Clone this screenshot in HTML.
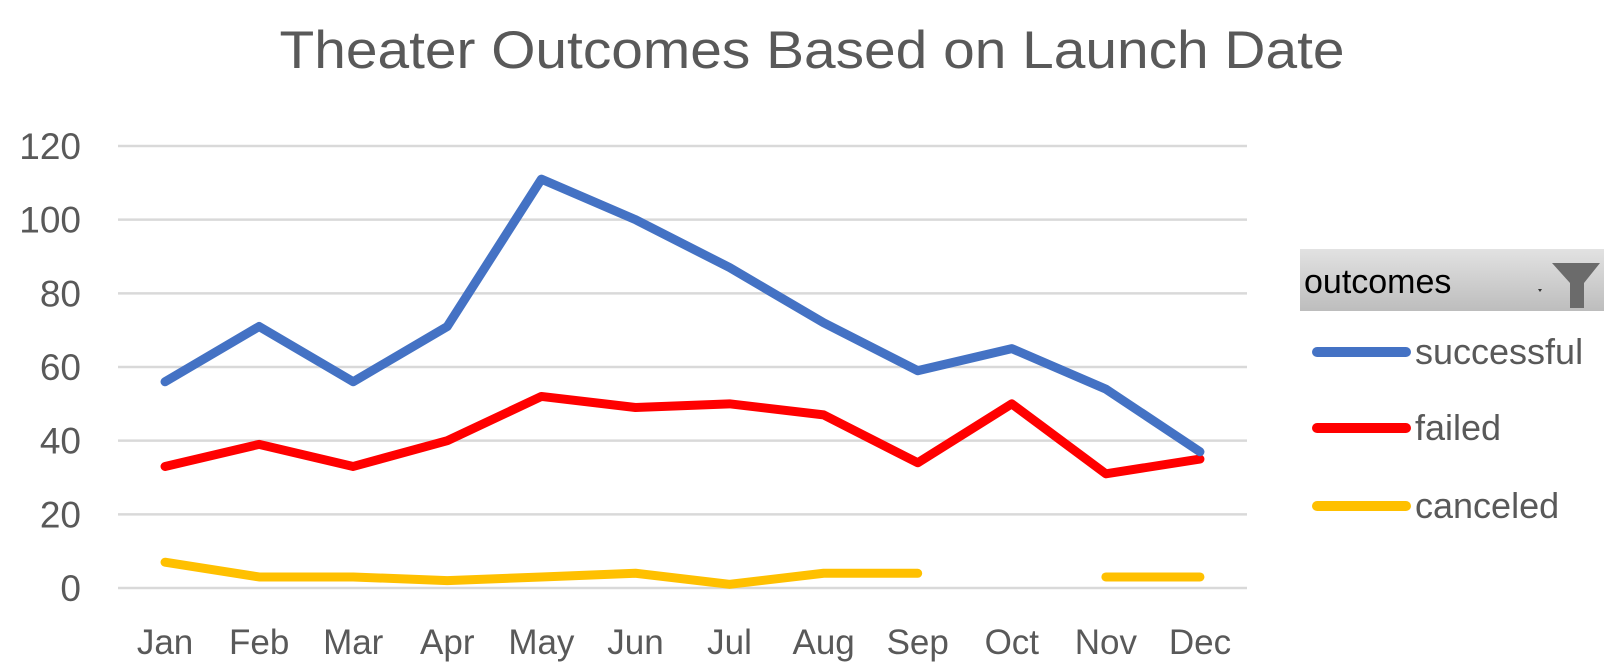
<!DOCTYPE html>
<html><head><meta charset="utf-8"><style>
body{margin:0;background:#fff;}
svg{display:block;font-family:"Liberation Sans",Carlito,sans-serif;}
</style></head><body>
<svg id="chart" width="1619" height="672" viewBox="0 0 1619 672" xmlns="http://www.w3.org/2000/svg">
<text x="812" y="68" text-anchor="middle" font-size="53" fill="#595959" textLength="1065" lengthAdjust="spacingAndGlyphs">Theater Outcomes Based on Launch Date</text>
<g id="grid"></g>
<g id="yticks"></g>
<g id="xticks"></g>
<g id="series"></g>
<g>
<defs><linearGradient id="lg" x1="0" y1="0" x2="0" y2="1"><stop offset="0" stop-color="#e2e2e2"/><stop offset="1" stop-color="#bdbdbd"/></linearGradient></defs>
<g>
<rect x="1300" y="249" width="304" height="62" fill="url(#lg)"/>
<text x="1304" y="293" font-size="34" fill="#000">outcomes</text>
<path d="M1538 289 l4 0 l-2 3 z" fill="#333"/>
<path d="M1552 263 l48 0 l-16 20 l0 25 l-14 0 l0 -25 z" fill="#6b6b6b"/>
</g>
<g><line x1="1317" y1="352" x2="1406" y2="352" stroke="#4472C4" stroke-width="10" stroke-linecap="round"/><text x="1415" y="364" font-size="36" fill="#595959">successful</text></g>
<g><line x1="1317" y1="428" x2="1406" y2="428" stroke="#FF0000" stroke-width="10" stroke-linecap="round"/><text x="1415" y="440" font-size="36" fill="#595959">failed</text></g>
<g><line x1="1317" y1="506" x2="1406" y2="506" stroke="#FFC000" stroke-width="10" stroke-linecap="round"/><text x="1415" y="518" font-size="36" fill="#595959">canceled</text></g>
</g>
</svg>
<script>
const months=["Jan","Feb","Mar","Apr","May","Jun","Jul","Aug","Sep","Oct","Nov","Dec"];
const yTicks=[0,20,40,60,80,100,120];
const successful=[56,71,56,71,111,100,87,72,59,65,54,37];
const failed=[33,39,33,40,52,49,50,47,34,50,31,35];
const canceled=[7,3,3,2,3,4,1,4,4,null,3,3];
const NS="http://www.w3.org/2000/svg";
const L=118,R=1247,Y0=588,Y120=146;
const xs=i=>L+(R-L)/12*(i+0.5);
const ys=v=>Y0-(Y0-Y120)*v/120;
function mk(t,a,p){const e=document.createElementNS(NS,t);for(const k in a)e.setAttribute(k,a[k]);p.appendChild(e);return e;}
const grid=document.getElementById('grid'),yt=document.getElementById('yticks'),xt=document.getElementById('xticks'),ser=document.getElementById('series');
yTicks.forEach(v=>{
 const g=mk('line',{x1:L,x2:R,y1:ys(v),y2:ys(v),stroke:'#d9d9d9','stroke-width':2.5},grid);
 
 
 const t=mk('text',{x:81,y:ys(v)+13,'text-anchor':'end','font-size':37,fill:'#595959'},yt);
 t.textContent=v;
 
 
});
months.forEach((m,i)=>{
 const t=mk('text',{x:xs(i),y:654,'text-anchor':'middle','font-size':35,fill:'#595959'},xt);
 t.textContent=m;
 
 
});
function draw(vals,color,name){
 let segs=[],cur=[];
 vals.forEach((v,i)=>{if(v==null){if(cur.length)segs.push(cur);cur=[];}else cur.push([xs(i),ys(v)]);});
 if(cur.length)segs.push(cur);
 segs.forEach(s=>{
  const p=mk('polyline',{points:s.map(q=>q.join(',')).join(' '),fill:'none',stroke:color,'stroke-width':9,'stroke-linecap':'round','stroke-linejoin':'round'},ser);
  
  
 });
}
draw(canceled,'#FFC000','canceled-line');
draw(failed,'#FF0000','failed-line');
draw(successful,'#4472C4','successful-line');
</script>
</body></html>
